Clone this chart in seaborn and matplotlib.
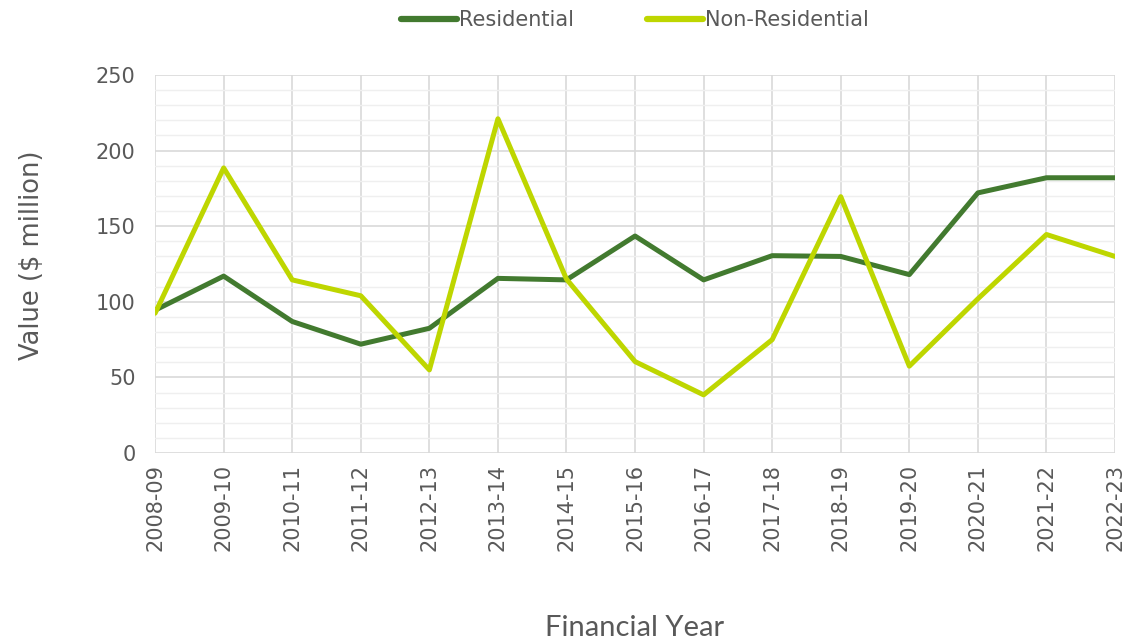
import pandas as pd
import numpy as np
import matplotlib
matplotlib.use('Agg')
import matplotlib.pyplot as plt
import matplotlib.ticker as mticker
import seaborn as sns

# --- Data --------------------------------------------------------------------
years = ['2008-09', '2009-10', '2010-11', '2011-12', '2012-13', '2013-14',
         '2014-15', '2015-16', '2016-17', '2017-18', '2018-19', '2019-20',
         '2020-21', '2021-22', '2022-23']
residential = [94.5, 117, 87, 72, 82.5, 115.5, 114.5, 143.5, 114.5, 130.5,
               130, 118, 172, 182, 182]
non_residential = [92.5, 188.5, 114.5, 104, 55, 221, 115, 60.5, 38.5, 75,
                   169.5, 57.5, 102, 144.5, 130]
series_names = ['Residential', 'Non-Residential']

# --- Style -------------------------------------------------------------------
sns.set_style('white')
plt.rcParams['font.family'] = ['DejaVu Sans']
DARK_GREEN = '#427A2F'
LIME = '#BED600'
TEXT = '#595959'
GRID = '#D9D9D9'
GRID_MINOR = '#EFEFEF'

df = pd.DataFrame({
    'Year': years * 2,
    'Value': residential + non_residential,
    'Series': [series_names[0]] * len(years) + [series_names[1]] * len(years),
})

fig, ax = plt.subplots(figsize=(11.24, 6.4), dpi=100)
fig.subplots_adjust(left=0.138, right=0.992, top=0.883, bottom=0.292)

sns.lineplot(data=df, x='Year', y='Value', hue='Series',
             palette=[DARK_GREEN, LIME], linewidth=3.6, ax=ax,
             sort=False, legend=False)

ax.set_xlim(0, len(years) - 1)
ax.set_ylim(0, 250)
ax.yaxis.set_major_locator(mticker.MultipleLocator(50))
ax.yaxis.set_minor_locator(mticker.MultipleLocator(10))
ax.grid(which='major', axis='both', color=GRID, linewidth=1.2)
ax.grid(which='minor', axis='y', color=GRID_MINOR, linewidth=1.0)
ax.set_axisbelow(True)
for s in ax.spines.values():
    s.set_visible(False)

ax.set_xticks(range(len(years)))
ax.set_xticklabels(years, rotation=90)
ax.tick_params(axis='x', which='major', length=6, color=GRID, width=1.2,
               labelsize=15, labelcolor=TEXT, pad=2)
ax.tick_params(axis='y', which='major', length=6, color=GRID, width=1.2,
               labelsize=15, labelcolor=TEXT, pad=8)
ax.tick_params(axis='y', which='minor', length=0)

ax.set_xlabel('Financial Year', fontsize=21, color=TEXT, family='Lato',
              va='center')
ax.xaxis.set_label_coords(0.5, -0.463)
ax.set_ylabel('Value ($ million)', fontsize=18.5, color=TEXT, va='center')
ax.yaxis.set_label_coords(-0.128, 0.524)

handles = [plt.Line2D([0], [0], color=c, linewidth=4.5, solid_capstyle='round')
           for c in [DARK_GREEN, LIME]]
fig.legend(handles, series_names, loc='center', bbox_to_anchor=(0.565, 1 - 20 / 640),
           ncol=2, frameon=False, fontsize=15, labelcolor=TEXT,
           handlelength=2.7, handletextpad=0.1, columnspacing=3.5)

plt.savefig('out.png', dpi=100)
plt.close()
